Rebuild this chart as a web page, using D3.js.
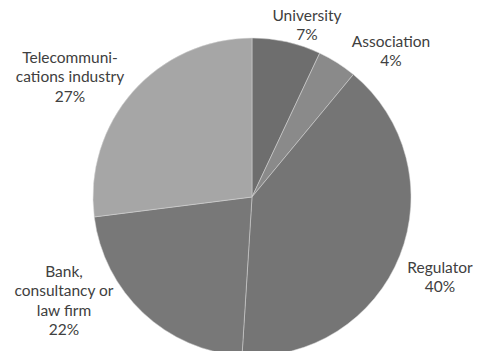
<!DOCTYPE html>
<html>
<head>
<meta charset="utf-8">
<script src="https://cdn.jsdelivr.net/npm/d3@7"></script>
<style>
  body { margin: 0; background: #fff; }
  text { font-family: Lato, "Open Sans", sans-serif; font-size: 15.5px; fill: #404040; }
</style>
</head>
<body>
<script>
// Data
const categories = ["University", "Association", "Regulator", "Bank, consultancy or law firm", "Telecommunications industry"];
const shares = [7, 4, 40, 22, 27];
const labelLines = [
  ["University", "7%"],
  ["Association", "4%"],
  ["Regulator", "40%"],
  ["Bank,", "consultancy or", "law firm", "22%"],
  ["Telecommuni-", "cations industry", "27%"]
];
const colors = ["#6e6e6e", "#8a8a8a", "#757575", "#787878", "#a6a6a6"];

let width = 481, height = 351;
let cx = 252, cy = 197, radius = 159;

let svg = d3.select('body')
  .append('svg')
    .attr('width', width)
    .attr('height', height);

let pie = d3.pie().sort(null).value(d => d);
let arc = d3.arc().innerRadius(0).outerRadius(radius);

let g = svg.append('g')
  .attr('transform', `translate(${cx},${cy})`);

g.selectAll('path')
  .data(pie(shares))
  .enter()
  .append('path')
    .attr('d', arc)
    .attr('fill', (d, i) => colors[i])
    .attr('stroke', '#d8d8d8')
    .attr('stroke-width', 0.5);

// label anchor positions (center x, first baseline y)
const labelPos = [[307, 21], [391, 47], [440, 273], [64, 277], [70, 63]];
const lineH = 19.3;

svg.selectAll('text.lbl')
  .data(labelLines)
  .enter()
  .append('text')
    .attr('class', 'lbl')
    .attr('text-anchor', 'middle')
    .attr('x', (d, i) => labelPos[i][0])
    .attr('y', (d, i) => labelPos[i][1])
  .selectAll('tspan')
    .data((d, i) => d.map(t => ({ t, i })))
  .enter()
  .append('tspan')
    .attr('x', d => labelPos[d.i][0])
    .attr('dy', (d, j) => j === 0 ? 0 : lineH)
    .text(d => d.t);
</script>
</body>
</html>
